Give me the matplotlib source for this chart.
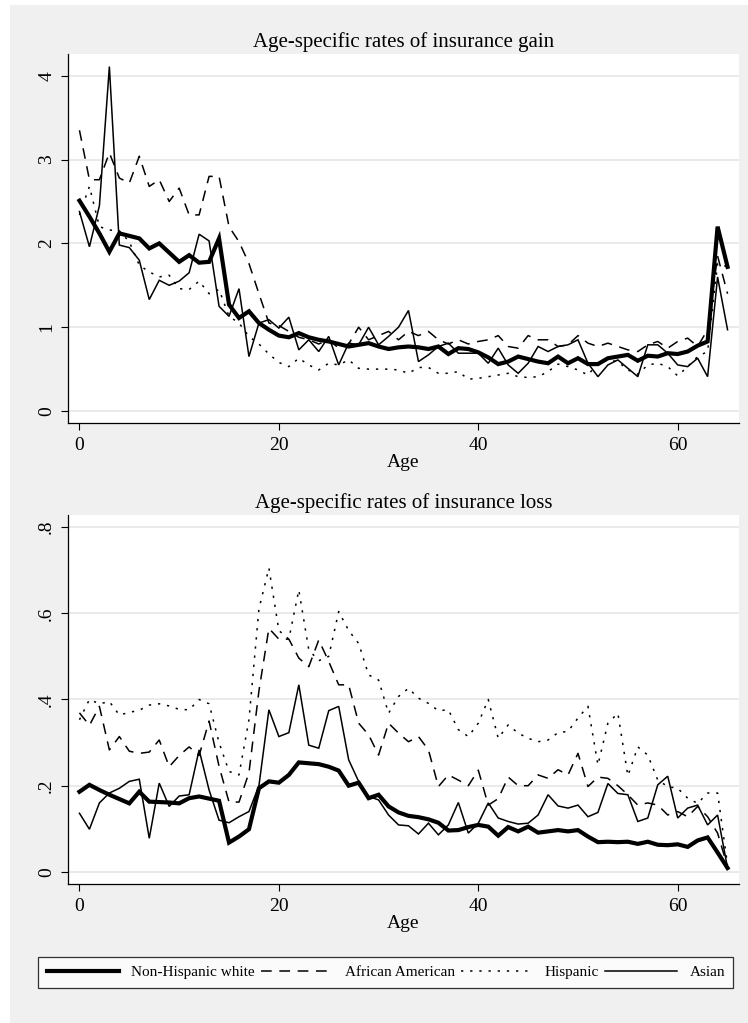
import numpy as np
import matplotlib
matplotlib.use('Agg')
import matplotlib.pyplot as plt
from matplotlib.patches import Rectangle

plt.rcParams['font.family'] = ['Liberation Serif', 'DejaVu Serif']

ages = np.arange(0, 66)

### insurance gain, per age 0..65
white_gain = [2.51, 2.32, 2.12, 1.90, 2.12, 2.09, 2.06, 1.94, 2.00, 1.89,
              1.78, 1.86, 1.77, 1.78, 2.06, 1.27, 1.11, 1.19, 1.05, 0.97,
              0.90, 0.88, 0.93, 0.88, 0.85, 0.83, 0.80, 0.77, 0.79, 0.81,
              0.77, 0.74, 0.76, 0.77, 0.76, 0.74, 0.77, 0.68, 0.75, 0.74,
              0.70, 0.64, 0.56, 0.59, 0.65, 0.62, 0.59, 0.57, 0.65, 0.57,
              0.63, 0.56, 0.56, 0.63, 0.65, 0.67, 0.60, 0.66, 0.65, 0.69,
              0.68, 0.71, 0.78, 0.83, 2.20, 1.72]
aa_gain = [3.35, 2.76, 2.76, 3.08, 2.78, 2.72, 3.04, 2.68, 2.76, 2.50,
           2.66, 2.34, 2.34, 2.80, 2.80, 2.20, 2.02, 1.76, 1.40, 1.05,
           1.02, 0.95, 0.88, 0.85, 0.80, 0.85, 0.75, 0.80, 1.00, 0.85,
           0.90, 0.95, 0.85, 0.95, 0.90, 0.95, 0.85, 0.80, 0.85, 0.80,
           0.83, 0.85, 0.90, 0.77, 0.75, 0.90, 0.85, 0.85, 0.77, 0.79,
           0.90, 0.81, 0.77, 0.81, 0.77, 0.73, 0.71, 0.79, 0.83, 0.75,
           0.83, 0.87, 0.77, 0.97, 1.85, 1.40]
hisp_gain = [2.34, 2.68, 2.20, 2.16, 2.15, 2.02, 1.74, 1.66, 1.60, 1.62,
             1.46, 1.45, 1.55, 1.40, 1.45, 1.13, 1.05, 0.89, 0.80, 0.68,
             0.58, 0.53, 0.63, 0.55, 0.49, 0.57, 0.55, 0.61, 0.51, 0.50,
             0.50, 0.50, 0.49, 0.45, 0.52, 0.52, 0.45, 0.45, 0.47, 0.38,
             0.39, 0.41, 0.43, 0.45, 0.41, 0.40, 0.41, 0.47, 0.56, 0.53,
             0.49, 0.43, 0.57, 0.61, 0.59, 0.49, 0.44, 0.55, 0.57, 0.53,
             0.42, 0.53, 0.65, 0.71, 1.76, 1.72]
asian_gain = [2.38, 1.96, 2.45, 4.11, 1.98, 1.95, 1.80, 1.33, 1.56, 1.50,
              1.55, 1.65, 2.11, 2.03, 1.25, 1.13, 1.46, 0.65, 1.05, 1.09,
              0.99, 1.12, 0.73, 0.85, 0.71, 0.89, 0.55, 0.81, 0.79, 1.00,
              0.79, 0.89, 1.00, 1.20, 0.59, 0.67, 0.77, 0.81, 0.69, 0.69,
              0.69, 0.57, 0.75, 0.55, 0.45, 0.57, 0.77, 0.71, 0.77, 0.79,
              0.85, 0.57, 0.41, 0.55, 0.61, 0.51, 0.41, 0.79, 0.79, 0.69,
              0.55, 0.53, 0.63, 0.41, 1.60, 0.97]

### insurance loss, per age 0..65
white_loss = [0.186, 0.202, 0.190, 0.179, 0.169, 0.159, 0.186, 0.163, 0.162, 0.161,
              0.159, 0.171, 0.175, 0.170, 0.165, 0.068, 0.082, 0.099, 0.194, 0.210,
              0.207, 0.225, 0.254, 0.252, 0.250, 0.244, 0.235, 0.200, 0.207, 0.171,
              0.179, 0.152, 0.138, 0.130, 0.127, 0.122, 0.114, 0.096, 0.097, 0.104,
              0.109, 0.105, 0.084, 0.104, 0.094, 0.105, 0.091, 0.094, 0.097, 0.094,
              0.097, 0.082, 0.069, 0.070, 0.069, 0.070, 0.065, 0.070, 0.063, 0.062,
              0.064, 0.058, 0.073, 0.080, 0.045, 0.009]
aa_loss = [0.369, 0.340, 0.384, 0.283, 0.314, 0.280, 0.275, 0.278, 0.306, 0.244,
           0.270, 0.290, 0.270, 0.350, 0.245, 0.162, 0.162, 0.230, 0.420, 0.565,
           0.540, 0.540, 0.496, 0.476, 0.538, 0.488, 0.434, 0.434, 0.345, 0.318,
           0.271, 0.345, 0.322, 0.302, 0.314, 0.283, 0.198, 0.225, 0.213, 0.200,
           0.236, 0.155, 0.170, 0.220, 0.200, 0.200, 0.225, 0.217, 0.237, 0.225,
           0.275, 0.198, 0.220, 0.217, 0.200, 0.179, 0.155, 0.160, 0.155, 0.132,
           0.140, 0.128, 0.152, 0.128, 0.090, 0.012]
hisp_loss = [0.353, 0.400, 0.390, 0.395, 0.364, 0.370, 0.375, 0.387, 0.390, 0.385,
             0.377, 0.376, 0.400, 0.390, 0.300, 0.233, 0.225, 0.353, 0.610, 0.705,
             0.560, 0.540, 0.654, 0.515, 0.490, 0.500, 0.604, 0.560, 0.530, 0.457,
             0.445, 0.368, 0.407, 0.426, 0.403, 0.391, 0.374, 0.376, 0.330, 0.314,
             0.345, 0.400, 0.310, 0.341, 0.322, 0.310, 0.302, 0.306, 0.323, 0.326,
             0.357, 0.384, 0.248, 0.345, 0.368, 0.223, 0.290, 0.271, 0.213, 0.198,
             0.194, 0.171, 0.159, 0.183, 0.183, 0.016]
asian_loss = [0.136, 0.099, 0.160, 0.183, 0.194, 0.210, 0.215, 0.078, 0.206, 0.152,
              0.176, 0.179, 0.283, 0.190, 0.120, 0.114, 0.128, 0.140, 0.200, 0.376,
              0.314, 0.323, 0.434, 0.294, 0.287, 0.374, 0.384, 0.260, 0.210, 0.175,
              0.167, 0.132, 0.109, 0.107, 0.088, 0.113, 0.086, 0.109, 0.161, 0.090,
              0.113, 0.160, 0.125, 0.117, 0.111, 0.113, 0.132, 0.179, 0.153, 0.148,
              0.155, 0.128, 0.138, 0.205, 0.182, 0.179, 0.117, 0.125, 0.202, 0.222,
              0.125, 0.148, 0.155, 0.109, 0.132, 0.009]

group_names = ['Non-Hispanic white', 'African American', 'Hispanic', 'Asian']
x_ticks = [0, 20, 40, 60]
gain_ticks = [0, 1, 2, 3, 4]
gain_ticklabels = ['0', '1', '2', '3', '4']
loss_ticks = [0, 0.2, 0.4, 0.6, 0.8]
loss_ticklabels = ['0', '.2', '.4', '.6', '.8']

styles = [dict(lw=3.0, ls='-'),
          dict(lw=1.1, ls=(0, (7, 5))),
          dict(lw=1.1, ls=(0, (1.5, 4.5))),
          dict(lw=1.1, ls='-')]

fig = plt.figure(figsize=(7.48, 10.23), dpi=100, facecolor='white')
fig.patches.append(Rectangle((10 / 748, 0), 1, 1 - 5 / 1023, transform=fig.transFigure,
                             facecolor='#f0f0f0', edgecolor='none', zorder=-10))


def draw_panel(ax, series, title, yticks, yticklabels, ylim):
    lines = []
    for s, st in zip(series, styles):
        ln, = ax.plot(ages, s, color='black', solid_joinstyle='miter', **st)
        lines.append(ln)
    ax.set_facecolor('white')
    ax.set_xlim(-1.18, 66.15)
    ax.set_ylim(*ylim)
    ax.set_xticks(x_ticks)
    ax.set_yticks(yticks)
    ax.set_yticklabels(yticklabels, rotation=90, va='center')
    ax.tick_params(direction='out', length=5, width=0.8, labelsize=14, colors='black')
    ax.tick_params(axis='x', pad=5)
    ax.tick_params(axis='y', pad=4)
    ax.grid(axis='y', color='#e8e8e8', lw=1.3)
    ax.set_axisbelow(True)
    for sp in ['top', 'right']:
        ax.spines[sp].set_visible(False)
    for sp in ['left', 'bottom']:
        ax.spines[sp].set_linewidth(0.9)
    ax.set_xlabel('Age', fontsize=14, labelpad=0)
    ax.set_title(title, fontsize=15, pad=5)
    return lines


ax1 = fig.add_axes([0.0905, 0.5865, 0.8975, 0.3607])
lines = draw_panel(ax1, [white_gain, aa_gain, hisp_gain, asian_gain],
                   'Age-specific rates of insurance gain', gain_ticks, gain_ticklabels, (-0.143, 4.26))

ax2 = fig.add_axes([0.0905, 0.1359, 0.8975, 0.3607])
draw_panel(ax2, [white_loss, aa_loss, hisp_loss, asian_loss],
           'Age-specific rates of insurance loss', loss_ticks, loss_ticklabels, (-0.028, 0.828))

leg = fig.legend(lines, group_names, loc='center', bbox_to_anchor=(0.516, 0.0494), ncol=4,
                 fontsize=11, frameon=True, fancybox=False, handlelength=4.7,
                 handletextpad=0.8, columnspacing=0.4, borderpad=0.55)
leg.get_frame().set_edgecolor('black')
leg.get_frame().set_linewidth(0.9)

fig.savefig('out.png', dpi=100, facecolor=fig.get_facecolor())
